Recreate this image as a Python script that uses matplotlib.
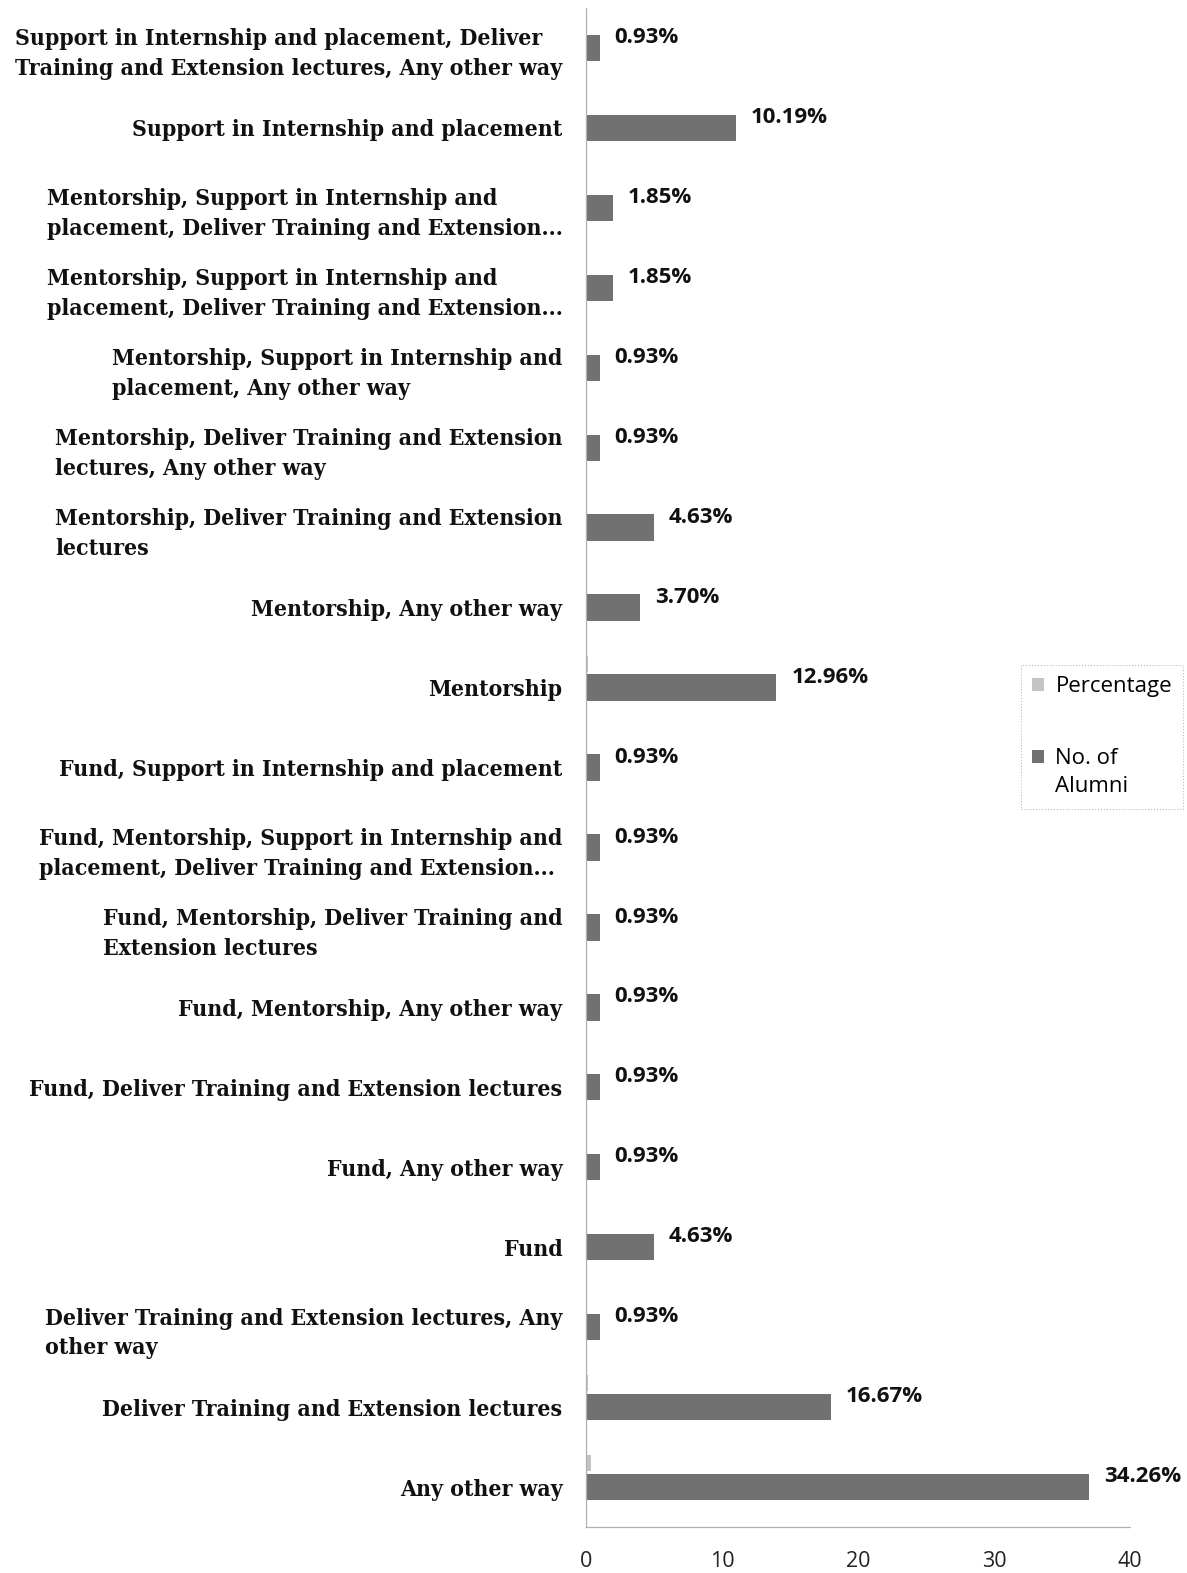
import numpy as np
import matplotlib
matplotlib.use("Agg")
import matplotlib.pyplot as plt

# categories listed top -> bottom as they appear in the chart
categories = [
    "Support in Internship and placement, Deliver\nTraining and Extension lectures, Any other way",
    "Support in Internship and placement",
    "Mentorship, Support in Internship and\nplacement, Deliver Training and Extension...",
    "Mentorship, Support in Internship and\nplacement, Deliver Training and Extension...",
    "Mentorship, Support in Internship and\nplacement, Any other way",
    "Mentorship, Deliver Training and Extension\nlectures, Any other way",
    "Mentorship, Deliver Training and Extension\nlectures",
    "Mentorship, Any other way",
    "Mentorship",
    "Fund, Support in Internship and placement",
    "Fund, Mentorship, Support in Internship and\nplacement, Deliver Training and Extension...",
    "Fund, Mentorship, Deliver Training and\nExtension lectures",
    "Fund, Mentorship, Any other way",
    "Fund, Deliver Training and Extension lectures",
    "Fund, Any other way",
    "Fund",
    "Deliver Training and Extension lectures, Any\nother way",
    "Deliver Training and Extension lectures",
    "Any other way",
]
alumni = [1, 11, 2, 2, 1, 1, 5, 4, 14, 1, 1, 1, 1, 1, 1, 5, 1, 18, 37]
percentage = [0.93, 10.19, 1.85, 1.85, 0.93, 0.93, 4.63, 3.70, 12.96, 0.93,
              0.93, 0.93, 0.93, 0.93, 0.93, 4.63, 0.93, 16.67, 34.26]
x_ticks = [0, 10, 20, 30, 40]

BAR_DARK  = "#717171"
BAR_LIGHT = "#c4c4c4"

fig = plt.figure(figsize=(11.87, 15.73), dpi=100)
ax = fig.add_axes([586 / 1187, 1 - 1527 / 1573, 544 / 1187, 1519 / 1573])

y = np.arange(len(categories))
# percentage series is stored as a fraction in the source sheet -> practically invisible
ax.barh(y - 0.3, np.array(percentage) / 100, height=0.2, color=BAR_LIGHT,
        label="Percentage")
ax.barh(y, alumni, height=0.33, color=BAR_DARK, label="No. of\nAlumni")

for yi, n, p in zip(y, alumni, percentage):
    ax.text(n + 1.1, yi - 0.13, f"{p:.2f}%", ha="left", va="center",
            fontsize=16, fontweight="bold", family="Open Sans", color="#111111")

ax.set_ylim(len(categories) - 0.5, -0.5)
ax.set_xlim(0, 40)
ax.set_xticks(x_ticks)
ax.set_xticklabels([str(t) for t in x_ticks], family="Open Sans", fontsize=15.5,
                   color="#222222")
ax.set_yticks(y)
ax.set_yticklabels(categories, family="DejaVu Serif", fontweight="bold",
                   fontsize=16.5, fontstretch="condensed", color="#111111")
for lbl in ax.get_yticklabels():
    lbl.set_multialignment("left")
    lbl.set_linespacing(1.45)

ax.tick_params(axis="y", length=0, pad=17)
ax.tick_params(axis="x", length=0, pad=17)
for side in ["top", "right"]:
    ax.spines[side].set_visible(False)
for side in ["left", "bottom"]:
    ax.spines[side].set_color("#b0b0b0")
    ax.spines[side].set_linewidth(0.9)
    ax.spines[side].set_linestyle((0, (1, 1)))

handles, labels = ax.get_legend_handles_labels()
leg = fig.legend(handles, labels, loc="upper left",
                 bbox_to_anchor=(1021 / 1187, 1 - 665 / 1573),
                 prop={"family": "Open Sans", "size": 16},
                 handlelength=0.55, handleheight=0.55, handletextpad=0.5,
                 labelspacing=2.3, borderpad=0.5, borderaxespad=0,
                 fancybox=False)
leg.get_frame().set_edgecolor("#aaaaaa")
leg.get_frame().set_linewidth(0.8)
leg.get_frame().set_linestyle(":")
for t in leg.get_texts():
    t.set_linespacing(1.45)
# the handle of the two-line entry sits next to its first line
h = leg.legend_handles[1]
h.set_y(h.get_y() + 12)

fig.savefig("out.png", dpi=100)
